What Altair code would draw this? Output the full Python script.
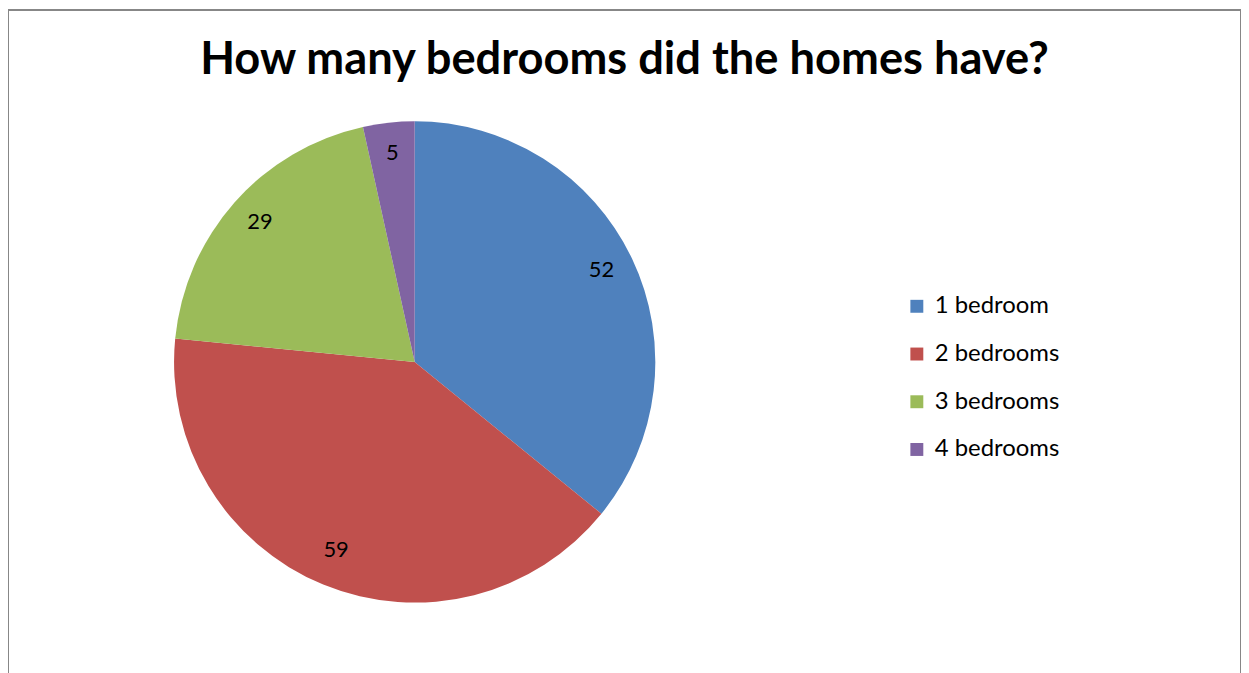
import altair as alt
import pandas as pd

categories = ["1 bedroom", "2 bedrooms", "3 bedrooms", "4 bedrooms"]
counts = [52, 59, 29, 5]
colors = ["#4F81BD", "#C0504D", "#9BBB59", "#8064A2"]
title_text = "How many bedrooms did the homes have?"

df = pd.DataFrame({"cat": categories, "n": counts, "order": list(range(len(categories)))})

CX, CY, R = 409, 354, 242
FONT = "Lato"

color = alt.Color(
    "cat:N",
    scale=alt.Scale(domain=categories, range=colors),
    legend=alt.Legend(
        title=None,
        orient="none",
        legendX=902,
        legendY=286,
        symbolType="square",
        symbolSize=169,
        symbolStrokeWidth=0,
        labelFontSize=24,
        labelFont=FONT,
        labelColor="#000000",
        labelOffset=6,
        rowPadding=24,
        padding=0,
    ),
)

base = alt.Chart(df).encode(
    theta=alt.Theta("n:Q", stack=True),
    order=alt.Order("order:Q"),
)

pie = base.mark_arc(outerRadius=R, stroke=None).encode(
    color=color,
    x=alt.value(CX),
    y=alt.value(CY),
)

labels = base.mark_text(radius=208, fontSize=22, font=FONT, color="#000000", dy=-3).encode(
    text="n:Q",
    x=alt.value(CX),
    y=alt.value(CY),
)

title = alt.Chart(pd.DataFrame({"t": [title_text]})).mark_text(
    fontSize=45.5, fontWeight="bold", font=FONT, color="#000000", baseline="alphabetic", align="center"
).encode(text="t:N", x=alt.value(620), y=alt.value(64))

chart = (
    alt.layer(pie, labels, title)
    .properties(width=1240, height=700, padding=0)
    .configure_view(stroke="#878787", strokeWidth=2)
)

chart.save("out.html", embed_options={"renderer": "svg", "actions": False})
